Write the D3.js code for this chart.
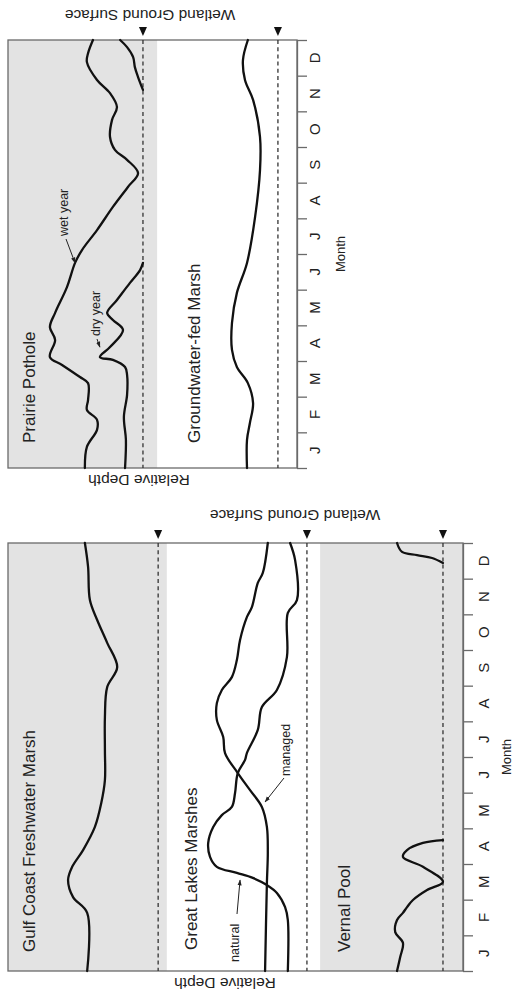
<!DOCTYPE html>
<html><head><meta charset="utf-8">
<script src="https://cdn.jsdelivr.net/npm/d3@7"></script>
<style>
body{margin:0;background:#fff}
svg{display:block}
text{font-family:"Liberation Sans",Arial,Helvetica,sans-serif;fill:#222}
</style></head><body>
<svg id="chart" width="513" height="994"></svg>
<script>
// ---- data (month: 0 = 1 Jan ... 12 = 31 Dec; depth: relative units, larger = wetter, 0 = month axis) ----
const monthLabels = ["J","F","M","A","M","J","J","A","S","O","N","D"];

const prairieWet = [[0,73.4],[0.59,72.7],[1.07,69.2],[1.35,69.2],[1.63,72.7],[1.91,72.3],[2.38,72.3],[2.55,75.1],[2.89,81.3],[3.11,85.5],[3.59,83.7],[3.95,85.5],[4.35,83.7],[5.07,79.6],[5.75,76.8],[6.11,74.4],[6.67,69.2],[7.32,63.7],[7.88,58.5],[8.27,55.0],[8.64,58.8],[8.92,63.0],[9.28,64.7],[9.76,64.0],[10.12,62.3],[10.51,64.7],[10.88,69.2],[11.38,72.7],[11.63,72.3],[12,70.6]];
const prairieDrySpring = [[0,59.5],[0.79,59.2],[1.43,59.9],[2.05,58.8],[2.61,58.8],[2.83,59.5],[3.03,63.7],[3.11,68.2],[3.39,64.7],[3.87,60.2],[4.15,63.7],[4.35,65.7],[4.71,62.3],[5.19,57.8],[5.55,54.3],[5.75,53.3]];
const prairieDryFall = [[10.6,53.3],[10.96,55.0],[11.24,56.1],[11.52,56.7],[11.8,58.8],[12,61.2]];
const groundwaterMarsh = [[0,17.3],[0.79,17.3],[1.26,16.3],[1.82,15.2],[2.38,17.0],[2.83,20.8],[3.31,22.5],[4.07,22.5],[4.91,20.8],[5.75,17.3],[7.04,14.5],[8.35,12.8],[9.28,12.8],[10.32,15.2],[10.88,18.0],[11.44,18.7],[12,17.0]];

const gulfCoast = [[0,82.6],[1.63,82.6],[2.07,85.7],[2.55,86.8],[2.92,85.9],[3.39,83.5],[4.04,80.9],[4.71,79.5],[5.35,78.7],[6.2,78.7],[7.12,78.7],[7.96,78.2],[8.52,76.0],[9.2,78.2],[9.84,80.4],[10.4,82.0],[11.33,82.4],[12,83.1]];
const greatLakesNatural = [[0,38.5],[1.43,38.5],[1.79,39.1],[2.19,40.9],[2.41,43.1],[2.61,46.2],[2.75,49.7],[2.92,54.1],[3.2,55.6],[3.59,56.0],[4.04,54.9],[4.37,53.0],[4.6,50.8],[4.99,50.1],[5.55,49.5],[5.92,47.9],[6.11,47.5],[6.76,45.1],[7.4,44.2],[7.88,40.9],[8.8,38.7],[10.04,38.5],[10.4,36.5],[11.52,36.9],[12,38.0]];
const greatLakesManaged = [[0,43.5],[2.47,43.1],[3.31,42.9],[4.04,43.1],[4.6,44.2],[5.07,46.8],[5.55,49.5],[6.11,52.3],[6.56,52.7],[7.04,54.1],[7.51,54.1],[7.88,53.0],[8.24,50.8],[8.72,49.7],[9.28,49.0],[9.92,47.5],[10.2,46.4],[10.88,45.1],[11.16,44.0],[12,42.9]];
const vernalSpring = [[0,14.5],[0.39,13.8],[0.79,13.2],[1.09,14.9],[1.43,14.5],[1.63,13.2],[1.79,12.3],[1.99,11.0],[2.27,7.9],[2.5,4.4],[2.92,8.8],[3.2,13.2],[3.39,12.3],[3.59,8.8],[3.67,4.4]];
const vernalWinter = [[11.44,4.4],[11.58,6.8],[11.66,10.1],[11.75,13.4],[12,14.5]];

// ground surface levels and shaded (flooded) bands per panel
const topSurfaces = [53.3, 6.6];
const bottomSurfaces = [67.0, 34.3, 4.4];
const topShading = [[48.4, 100]];
const bottomShading = [[65.1, 100], [0, 31.4]];

// ---- drawing ----
const svg = d3.select("#chart");

const panels = [
  {
    month: d3.scaleLinear().domain([0,12]).range([468,40]),
    depth: d3.scaleLinear().domain([0,100]).range([297,8]),
    surfaces: topSurfaces, shading: topShading,
    series: [prairieWet, prairieDrySpring, prairieDryFall, groundwaterMarsh],
    labels: [
      {t:"Prairie Pothole", x:35, y:443, s:17},
      {t:"Groundwater-fed Marsh", x:200, y:443, s:17}
    ],
    notes: [
      {t:"wet year", tip:[5.75,76.8], tx:68, ty:236, lx:66, ly:239},
      {t:"dry year", tip:[3.39,68.2], tx:100, ty:336, lx:97, ly:339}
    ],
    surfaceLabel:[150,15], depthLabel:[139,480], monthLabelX:314, monthTitle:[340,254]
  },
  {
    month: d3.scaleLinear().domain([0,12]).range([971,543]),
    depth: d3.scaleLinear().domain([0,100]).range([463,8]),
    surfaces: bottomSurfaces, shading: bottomShading,
    series: [gulfCoast, greatLakesNatural, greatLakesManaged, vernalSpring, vernalWinter],
    labels: [
      {t:"Gulf Coast Freshwater Marsh", x:35, y:952, s:17},
      {t:"Great Lakes Marshes", x:197, y:950, s:17},
      {t:"Vernal Pool", x:350, y:952, s:17}
    ],
    notes: [
      {t:"natural", tip:[2.55,49.0], tx:239, ty:962, lx:237, ly:914},
      {t:"managed", tip:[4.74,43.5], tx:290, ty:776, lx:284, ly:778}
    ],
    surfaceLabel:[295,515], depthLabel:[225,983], monthLabelX:483, monthTitle:[506,757]
  }
];

const defs = svg.append("defs");
defs.append("marker").attr("id","arrow").attr("viewBox","0 0 10 10")
  .attr("refX",9).attr("refY",5).attr("markerWidth",6).attr("markerHeight",6)
  .attr("orient","auto")
  .append("path").attr("d","M0,1.5L10,5L0,8.5Z").attr("fill","#222");

panels.forEach(p => {
  const g = svg.append("g");
  const [m0, m1] = p.month.domain();
  const yTop = p.month(m1), yBot = p.month(m0);
  const xAxis = p.depth(0), xLeft = p.depth(100);

  // shading
  g.selectAll("rect.shade").data(p.shading).join("rect").attr("class","shade")
    .attr("x", d => p.depth(d[1])).attr("width", d => p.depth(d[0]) - p.depth(d[1]))
    .attr("y", yTop).attr("height", yBot - yTop)
    .attr("fill","#e3e3e3");

  // frame
  g.append("rect").attr("x", xLeft).attr("y", yTop)
    .attr("width", xAxis - xLeft).attr("height", yBot - yTop)
    .attr("fill","none").attr("stroke","#6a6a6a").attr("stroke-width",1.3);

  // month axis
  const ax = g.append("g").attr("transform", `translate(${xAxis},0)`)
    .call(d3.axisRight(p.month).tickValues(d3.range(13)).tickSize(10).tickSizeOuter(0).tickFormat(""));
  ax.select(".domain").attr("stroke","#6a6a6a").attr("stroke-width",1.3);
  ax.selectAll(".tick line").attr("stroke","#6a6a6a").attr("stroke-width",1.3);

  g.selectAll("text.mon").data(monthLabels).join("text").attr("class","mon")
    .attr("transform",(d,i)=>`translate(${p.monthLabelX},${p.month(i+0.5)}) rotate(-90)`)
    .attr("text-anchor","middle").attr("dominant-baseline","central")
    .style("font-size","15px").text(d=>d);

  g.append("text").attr("transform",`translate(${p.monthTitle[0]},${p.monthTitle[1]}) rotate(-90)`)
    .attr("text-anchor","middle").attr("dominant-baseline","central")
    .style("font-size","13px").text("Month");

  // ground surface dashed lines + triangles
  g.selectAll("line.surf").data(p.surfaces).join("line").attr("class","surf")
    .attr("x1", d=>p.depth(d)).attr("x2", d=>p.depth(d))
    .attr("y1", yTop).attr("y2", yBot)
    .attr("stroke","#333").attr("stroke-width",1.3).attr("stroke-dasharray","4,3.2");
  g.selectAll("path.tri").data(p.surfaces).join("path").attr("class","tri")
    .attr("d", d => { const x = p.depth(d); return `M${x-4},${yTop-13}L${x+4},${yTop-13}L${x},${yTop-4}Z`; })
    .attr("fill","#111");

  // series
  const line = d3.line().x(d=>p.depth(d[1])).y(d=>p.month(d[0])).curve(d3.curveCatmullRom.alpha(0.5));
  g.selectAll("path.series").data(p.series).join("path").attr("class","series")
    .attr("d", line).attr("fill","none").attr("stroke","#111").attr("stroke-width",2.3)
    .attr("stroke-linejoin","round").attr("stroke-linecap","round");

  // sub-panel labels
  g.selectAll("text.lab").data(p.labels).join("text").attr("class","lab")
    .attr("transform", d=>`translate(${d.x},${d.y}) rotate(-90)`)
    .style("font-size", d=>d.s+"px").text(d=>d.t);

  // annotations
  p.notes.forEach(n => {
    g.append("text").attr("transform",`translate(${n.tx},${n.ty}) rotate(-90)`)
      .style("font-size","12.5px").text(n.t);
    g.append("line").attr("x1", n.lx).attr("y1", n.ly)
      .attr("x2", p.depth(n.tip[1])).attr("y2", p.month(n.tip[0]))
      .attr("stroke","#222").attr("stroke-width",1).attr("marker-end","url(#arrow)");
  });

  // upside-down axis texts
  g.append("text").attr("transform",`translate(${p.surfaceLabel[0]},${p.surfaceLabel[1]}) rotate(180)`)
    .attr("text-anchor","middle").attr("dominant-baseline","central")
    .style("font-size","15.5px").text("Wetland Ground Surface");
  g.append("text").attr("transform",`translate(${p.depthLabel[0]},${p.depthLabel[1]}) rotate(180)`)
    .attr("text-anchor","middle").attr("dominant-baseline","central")
    .style("font-size","15.5px").text("Relative Depth");
});
</script>
</body></html>
